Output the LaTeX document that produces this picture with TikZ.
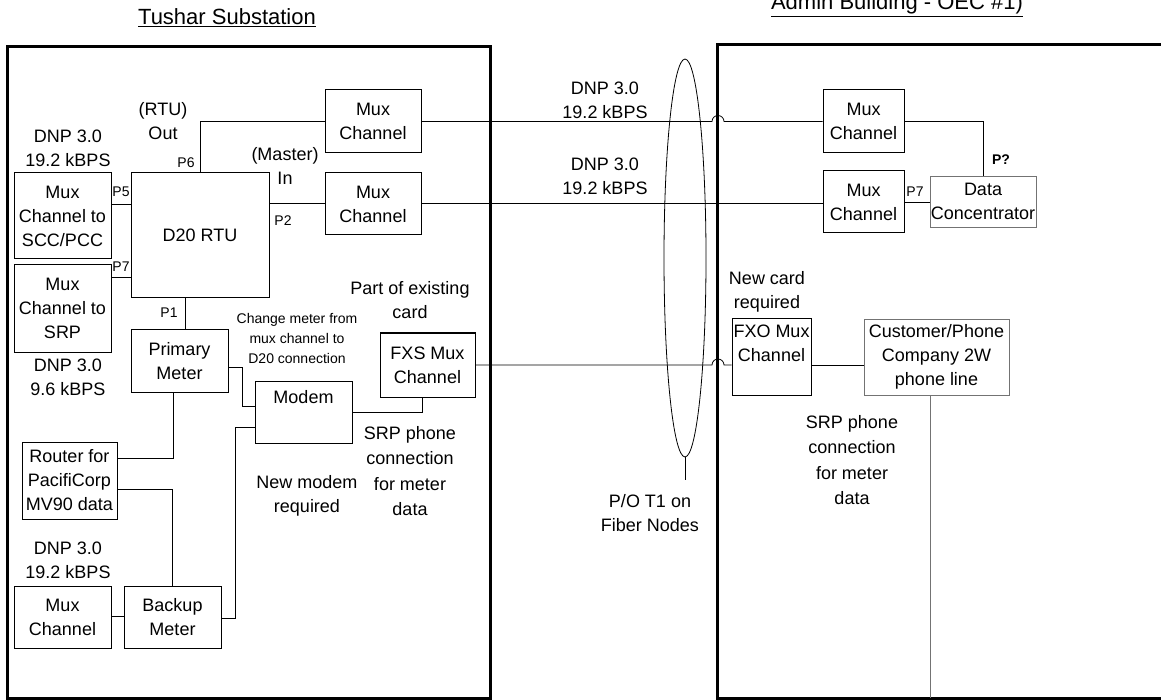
\documentclass[tikz,border=0pt]{standalone}
\usepackage{fontspec}
\setmainfont{Liberation Sans}
\usetikzlibrary{shapes.geometric}
\newcommand\fsn{\fontsize{18}{24}\selectfont}
\newcommand\fss{\fontsize{14}{20}\selectfont}
\newcommand\fst{\fontsize{22}{26}\selectfont}
\begin{document}
\begin{tikzpicture}[x=1pt,y=-1pt,
  box/.style={draw, line width=1pt, inner sep=0pt, align=center, font=\fsn},
  gbox/.style={box, draw=black!55, line width=0.8pt},
  txt/.style={align=center, font=\fsn, inner sep=0pt},
  stxt/.style={align=center, font=\fss, inner sep=0pt},
  wire/.style={line width=0.8pt},
  frame/.style={line width=3pt}]
\useasboundingbox (0,0) rectangle (1161,700);

% titles
\node[txt, font=\fst] (t1) at (227,18) {\underline{Tushar Substation}};
\node[txt, font=\fst, anchor=base] (t2) at (897,10) {\underline{Admin Building - OEC \#1)}};

% frames
\draw[frame] (7,47) rectangle (490,698);
\draw[frame] (1170,45) -- (717,45) -- (717,698) -- (1170,698);

% left boxes
\node[box, minimum width=96pt, minimum height=63pt] (mux1) at (373,121.5) {Mux\\Channel};
\node[box, minimum width=96pt, minimum height=62pt] (mux2) at (373,204) {Mux\\Channel};
\node[box, minimum width=138pt, minimum height=125pt] (rtu) at (200,235.5) {\raisebox{-5pt}{D20 RTU}};
\node[box, minimum width=97pt, minimum height=86pt] (scc) at (62.5,216) {Mux\\Channel to\\SCC/PCC};
\node[box, minimum width=97pt, minimum height=87pt] (srp) at (62.5,308.5) {Mux\\Channel to\\SRP};
\node[box, minimum width=97pt, minimum height=62pt] (pm) at (179.5,361) {Primary\\Meter};
\node[box, minimum width=95pt, minimum height=64pt] (fxs) at (427.5,365) {FXS Mux\\Channel};
\node[box, minimum width=97pt, minimum height=62pt] (modem) at (303.5,412) {};
\node[txt] (modemt) at (303.5,397) {Modem};
\node[box, minimum width=95pt, minimum height=77pt] (router) at (69.5,480.5) {Router for\\PacifiCorp\\MV90 data};
\node[box, minimum width=97pt, minimum height=62pt] (muxb) at (62.5,617) {Mux\\Channel};
\node[box, minimum width=97pt, minimum height=62pt] (backup) at (172.5,617) {Backup\\Meter};

% right boxes
\node[box, minimum width=81pt, minimum height=63pt] (rmux1) at (863.5,121.5) {Mux\\Channel};
\node[box, minimum width=81pt, minimum height=62pt] (rmux2) at (863.5,202) {Mux\\Channel};
\node[gbox, minimum width=106pt, minimum height=51pt] (dc) at (983,201.5) {Data\\Concentrator};
\node[box, minimum width=79pt, minimum height=76pt] (fxo) at (771.5,357) {};
\node[txt] (fxot) at (771.5,343) {FXO Mux\\Channel};
\node[gbox, minimum width=145pt, minimum height=76pt] (cust) at (936.5,357) {Customer/Phone\\Company 2W\\phone line};

% fiber ellipse
\node[ellipse, draw, line width=0.8pt, minimum width=42pt, minimum height=398pt, inner sep=0pt] (fiber) at (685,258) {};
\node[txt] (fibert) at (650,513) {P/O T1 on\\Fiber Nodes};
\coordinate (fiberend) at (685,480);

% labels
\node[txt] (l1) at (163,121) {(RTU)\\Out};
\node[txt] (l2) at (68,148) {DNP 3.0\\19.2 kBPS};
\node[stxt] (p6) at (186,163) {P6};
\node[txt] (l3) at (285,166) {(Master)\\In};
\node[stxt] (p5) at (121,192) {P5};
\node[stxt] (p2) at (283,221) {P2};
\node[stxt] (p7) at (121,267) {P7};
\node[stxt] (p1) at (169,313) {P1};
\node[txt] (l4) at (68,377) {DNP 3.0\\9.6 kBPS};
\node[txt] (l5) at (410,300) {Part of existing\\card};
\node[stxt] (l6) at (297,338) {Change meter from\\mux channel to\\D20 connection};
\node[txt, font=\fontsize{18}{25.5}\selectfont] (l7) at (410,471) {SRP phone\\connection\\for meter\\data};
\node[txt] (l8) at (307,496) {New modem\\required};
\node[txt] (l9) at (68,560) {DNP 3.0\\19.2 kBPS};
\node[txt] (l10) at (605,100) {DNP 3.0\\19.2 kBPS};
\node[txt] (l11) at (605,176) {DNP 3.0\\19.2 kBPS};
\node[stxt, font=\fss\bfseries] (pq) at (1001,160) {P?};
\node[stxt] (rp7) at (915,192) {P7};
\node[txt] (l12) at (767,292) {New card\\required};
\node[txt, font=\fontsize{18}{25.5}\selectfont] (l13) at (852,460) {SRP phone\\connection\\for meter\\data};

% connectors left
\draw[wire] (rtu.north) |- (mux1.west);
\draw[wire] (rtu.east |- 0,203) -- (mux2.west |- 0,203);
\draw[wire] (scc.east |- 0,204) -- (rtu.west |- 0,204);
\draw[wire] (srp.east |- 0,277) -- (rtu.west |- 0,277);
\draw[wire] (rtu.south -| 185,0) -- (pm.north -| 185,0);
\draw[wire] (pm.east |- 0,367) -| (242,406) -- (modem.west |- 0,406);
\draw[wire] (modem.east |- 0,412) -| (fxs.south -| 422,0);
\draw[wire] (pm.south -| 173,0) |- (router.east |- 0,458);
\draw[wire] (router.east |- 0,489) -| (backup.north);
\draw[wire] (muxb.east |- 0,616) -- (backup.west |- 0,616);
\draw[wire] (backup.east |- 0,618) -| (235,427) -- (modem.west |- 0,427);

% links across
\draw[wire] (mux1.east) -- (712,121.5) arc[start angle=180, end angle=0, radius=6pt] -- (rmux1.west);
\draw[wire] (mux2.east |- 0,203) -- (rmux2.west |- 0,203);
\draw[wire] (fxs.east) -- (712,365) arc[start angle=180, end angle=0, radius=6pt] -- (fxo.west |- 0,365);

% connectors right
\draw[wire] (rmux1.east) -| (dc.north);
\draw[wire] (rmux2.east) -- (dc.west |- rmux2.east);
\draw[wire] (fxo.east |- 0,365) -- (cust.west |- 0,365);
\draw[wire, draw=black!55] (cust.south -| 930,0) -- (930,698);
\draw[wire] (fiber.south) -- (fiberend);
\end{tikzpicture}
\end{document}
